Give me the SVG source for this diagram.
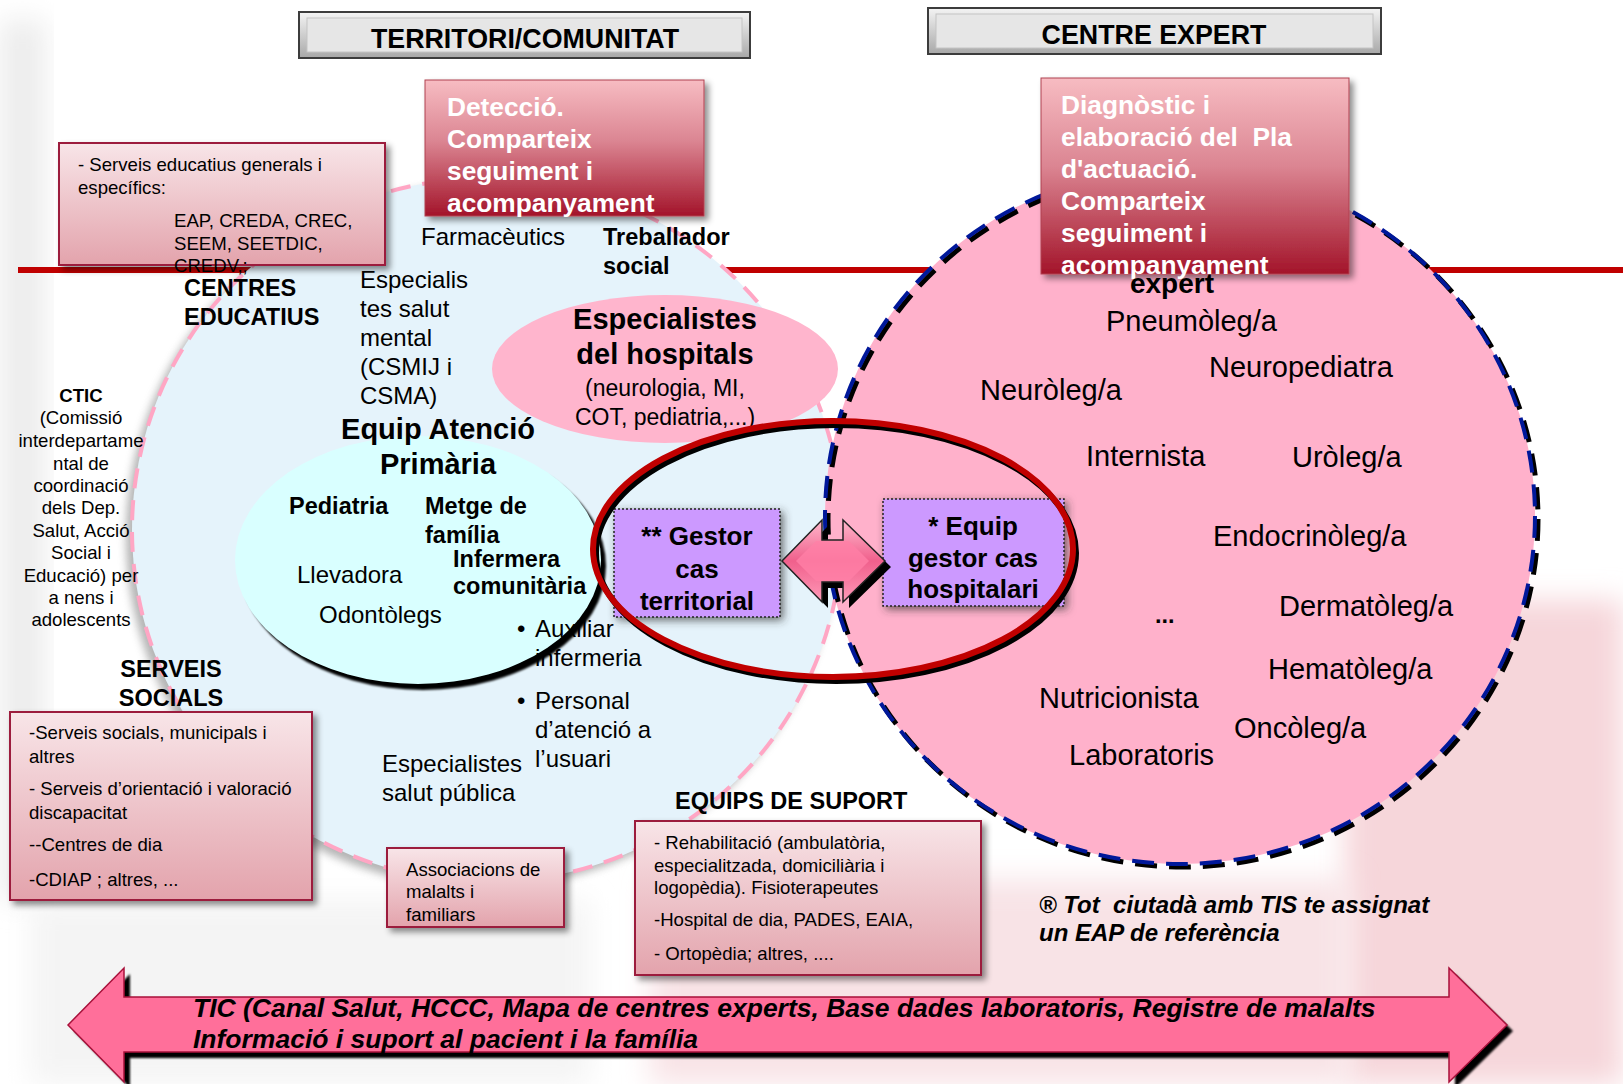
<svg xmlns="http://www.w3.org/2000/svg" width="1623" height="1084" viewBox="0 0 1623 1084">
<defs>
<style>
text{font-family:"Liberation Sans",Arial,sans-serif;fill:#000}
.reg{font-size:24px}
.bld{font-size:23.5px;font-weight:bold}
.exp{font-size:29px}
.small{font-size:18.6px}
.wt{font-size:26.3px;font-weight:bold;fill:#fff}
.hdr{font-size:26.8px;font-weight:bold}
.pur{font-size:26px;font-weight:bold;text-anchor:middle}
.bi{font-size:24px;font-weight:bold;font-style:italic}
.tic{font-size:26.5px;font-weight:bold;font-style:italic}
.pbox{fill:url(#pinkBox);stroke:#9c1c3c;stroke-width:2}
.rbox{fill:url(#redBox);stroke:#b04050;stroke-width:1}
.purbox{fill:#cc99ff;stroke:#222;stroke-width:1.5;stroke-dasharray:2 2}
</style>
<linearGradient id="redBox" x1="0" y1="0" x2="0" y2="1">
<stop offset="0" stop-color="#f7bcc2"/><stop offset="0.45" stop-color="#db8592"/><stop offset="1" stop-color="#a3142a"/>
</linearGradient>
<linearGradient id="pinkBox" x1="0" y1="0" x2="0" y2="1">
<stop offset="0" stop-color="#f8e5e8"/><stop offset="1" stop-color="#e3a3ac"/>
</linearGradient>
<linearGradient id="hdrGrad" x1="0" y1="0" x2="0" y2="1">
<stop offset="0" stop-color="#f4f4f4"/><stop offset="1" stop-color="#a8a8a8"/>
</linearGradient>
<linearGradient id="arrGrad" x1="0" y1="0" x2="0" y2="1">
<stop offset="0" stop-color="#ffb8cc"/><stop offset="0.5" stop-color="#f0608c"/><stop offset="1" stop-color="#ff9ab8"/>
</linearGradient>
<filter id="sh" x="-20%" y="-20%" width="140%" height="140%">
<feDropShadow dx="4" dy="4" stdDeviation="3" flood-color="#000" flood-opacity="0.45"/>
</filter>
<filter id="glow" x="-20%" y="-20%" width="140%" height="140%">
<feDropShadow dx="3" dy="3" stdDeviation="4" flood-color="#333" flood-opacity="0.7"/>
</filter>
<filter id="blur12" x="-20%" y="-20%" width="140%" height="140%"><feGaussianBlur stdDeviation="14"/></filter>
<filter id="blur4" x="-20%" y="-20%" width="140%" height="140%"><feGaussianBlur stdDeviation="4"/></filter>
<filter id="blur1" x="-10%" y="-10%" width="120%" height="120%"><feGaussianBlur stdDeviation="1.2"/></filter>
</defs>

<g id="background">
<rect x="0" y="0" width="1623" height="1084" fill="#ffffff"/>
<rect x="0" y="20" width="45" height="880" fill="#ececec" filter="url(#blur12)"/>
<rect x="1345" y="600" width="278" height="484" fill="#f6d6da" filter="url(#blur12)"/>
<rect x="650" y="880" width="700" height="204" fill="#f8e3e6" filter="url(#blur12)"/>
<rect x="30" y="900" width="560" height="184" fill="#f4f4f4" filter="url(#blur12)"/>
</g>

<g id="connectors">
<line x1="18" y1="270" x2="1623" y2="270" stroke="#c00000" stroke-width="6"/>
</g>

<g id="territori-circle">
<ellipse cx="481" cy="536" rx="355" ry="352" fill="#777" opacity="0.55" filter="url(#blur4)"/>
<ellipse cx="487" cy="530" rx="355" ry="352" fill="#e5f3fb" stroke="#ffa6c4" stroke-width="4" stroke-dasharray="20 12"/>
</g>

<g id="centre-expert-circle">
<ellipse cx="1180" cy="516" rx="355" ry="348" fill="#ffb1cb"/>
<ellipse cx="1183" cy="519" rx="355" ry="348" fill="none" stroke="#000" stroke-width="5" stroke-dasharray="22 12"/>
<ellipse cx="1180" cy="516" rx="355" ry="348" fill="none" stroke="#00189a" stroke-width="4" stroke-dasharray="22 12"/>
</g>

<g id="especialistes-hospitals">
<ellipse cx="665" cy="369" rx="173" ry="74" fill="#ffb5cd"/>
<text class="bld" style="font-size:29px" x="665" y="329" text-anchor="middle">Especialistes</text>
<text class="bld" style="font-size:29px" x="665" y="364" text-anchor="middle">del hospitals</text>
<text class="reg" style="font-size:23px" x="665" y="396" text-anchor="middle">(neurologia, MI,</text>
<text class="reg" style="font-size:23px" x="665" y="425" text-anchor="middle">COT, pediatria,...)</text>
</g>

<g id="eap">
<ellipse cx="423" cy="566" rx="183" ry="124" fill="#000" filter="url(#blur1)"/>
<ellipse cx="418" cy="560" rx="183" ry="124" fill="#d9ffff"/>
<text class="bld" style="font-size:29px" x="438" y="439" text-anchor="middle">Equip Atenció</text>
<text class="bld" style="font-size:29px" x="438" y="474" text-anchor="middle">Primària</text>
<text class="bld" x="289" y="514">Pediatria</text>
<text class="bld" x="425" y="514">Metge de</text>
<text class="bld" x="425" y="543">família</text>
<text class="bld" x="453" y="567">Infermera</text>
<text class="bld" x="453" y="594">comunitària</text>
<text class="reg" x="297" y="583">Llevadora</text>
<text class="reg" x="319" y="623">Odontòlegs</text>
</g>

<g id="territori-labels">
<text class="reg" x="421" y="245">Farmacèutics</text>
<text class="bld" x="603" y="245">Treballador</text>
<text class="bld" x="603" y="274">social</text>
<text class="reg" x="360" y="288">Especialis</text>
<text class="reg" x="360" y="317">tes salut</text>
<text class="reg" x="360" y="346">mental</text>
<text class="reg" x="360" y="375">(CSMIJ i</text>
<text class="reg" x="360" y="404">CSMA)</text>
<text class="bld" x="184" y="296">CENTRES</text>
<text class="bld" x="184" y="325">EDUCATIUS</text>
<text class="reg" x="517" y="637">•</text>
<text class="reg" x="535" y="637">Auxiliar</text>
<text class="reg" x="535" y="666">infermeria</text>
<text class="reg" x="517" y="709">•</text>
<text class="reg" x="535" y="709">Personal</text>
<text class="reg" x="535" y="738">d’atenció a</text>
<text class="reg" x="535" y="767">l’usuari</text>
<text class="reg" x="382" y="772">Especialistes</text>
<text class="reg" x="382" y="801">salut pública</text>
<text class="bld" x="171" y="677" text-anchor="middle">SERVEIS</text>
<text class="bld" x="171" y="706" text-anchor="middle">SOCIALS</text>
<text class="bld" x="675" y="809">EQUIPS DE SUPORT</text>
</g>

<g id="ctic">
<text class="small" x="81" y="402" text-anchor="middle" font-weight="bold">CTIC</text>
<text class="small" x="81" y="424" text-anchor="middle">(Comissió</text>
<text class="small" x="81" y="447" text-anchor="middle">interdepartame</text>
<text class="small" x="81" y="470" text-anchor="middle">ntal de</text>
<text class="small" x="81" y="492" text-anchor="middle">coordinació</text>
<text class="small" x="81" y="514" text-anchor="middle">dels Dep.</text>
<text class="small" x="81" y="537" text-anchor="middle">Salut, Acció</text>
<text class="small" x="81" y="559" text-anchor="middle">Social i</text>
<text class="small" x="81" y="582" text-anchor="middle">Educació) per</text>
<text class="small" x="81" y="604" text-anchor="middle">a nens i</text>
<text class="small" x="81" y="626" text-anchor="middle">adolescents</text>
</g>

<g id="expert-labels">
<text class="exp" x="1106" y="331">Pneumòleg/a</text>
<text class="exp" x="1209" y="377">Neuropediatra</text>
<text class="exp" x="980" y="400">Neuròleg/a</text>
<text class="exp" x="1086" y="466">Internista</text>
<text class="exp" x="1292" y="467">Uròleg/a</text>
<text class="exp" x="1213" y="546">Endocrinòleg/a</text>
<text class="bld" x="1155" y="623">...</text>
<text class="exp" x="1279" y="616">Dermatòleg/a</text>
<text class="exp" x="1268" y="679">Hematòleg/a</text>
<text class="exp" x="1039" y="708">Nutricionista</text>
<text class="exp" x="1234" y="738">Oncòleg/a</text>
<text class="exp" x="1069" y="765">Laboratoris</text>
</g>

<g id="header-territori">
<rect x="299" y="12" width="451" height="46" fill="url(#hdrGrad)" stroke="#3c3c3c" stroke-width="2"/>
<rect x="307" y="18" width="435" height="34" fill="#e6e6e6" stroke="#c4c4c4" stroke-width="1"/>
<text class="hdr" x="525" y="48" text-anchor="middle">TERRITORI/COMUNITAT</text>
</g>

<g id="header-centre-expert">
<rect x="928" y="8" width="453" height="46" fill="url(#hdrGrad)" stroke="#3c3c3c" stroke-width="2"/>
<rect x="936" y="14" width="437" height="34" fill="#e6e6e6" stroke="#c4c4c4" stroke-width="1"/>
<text class="hdr" x="1154" y="44" text-anchor="middle">CENTRE EXPERT</text>
</g>

<g id="deteccio">
<rect class="rbox" x="425" y="80" width="279" height="136" filter="url(#sh)"/>
<text class="wt" x="447" y="116">Detecció.</text>
<text class="wt" x="447" y="148">Comparteix</text>
<text class="wt" x="447" y="180">seguiment i</text>
<text class="wt" x="447" y="212">acompanyament</text>
</g>

<g id="diagnostic">
<rect class="rbox" x="1041" y="78" width="308" height="196" filter="url(#sh)"/>
<text class="wt" x="1061" y="114">Diagnòstic i</text>
<text class="wt" x="1061" y="146" xml:space="preserve">elaboració del  Pla</text>
<text class="wt" x="1061" y="178">d'actuació.</text>
<text class="wt" x="1061" y="210">Comparteix</text>
<text class="wt" x="1061" y="242">seguiment i</text>
<text class="wt" x="1061" y="274">acompanyament</text>
<text class="bld" style="font-size:28px" x="1172" y="293" text-anchor="middle">expert</text>
</g>

<g id="serveis-educatius">
<rect class="pbox" x="59" y="143" width="326" height="122" filter="url(#sh)"/>
<text class="small" x="78" y="171">- Serveis educatius generals i</text>
<text class="small" x="78" y="194">específics:</text>
<text class="small" x="174" y="227">EAP, CREDA, CREC,</text>
<text class="small" x="174" y="250">SEEM, SEETDIC,</text>
<text class="small" x="174" y="272">CREDV,;</text>
</g>

<g id="serveis-socials">
<rect class="pbox" x="10" y="712" width="302" height="188" filter="url(#sh)"/>
<text class="small" x="29" y="739">-Serveis socials, municipals i</text>
<text class="small" x="29" y="763">altres</text>
<text class="small" x="29" y="795">- Serveis d’orientació i valoració</text>
<text class="small" x="29" y="819">discapacitat</text>
<text class="small" x="29" y="851">--Centres de dia</text>
<text class="small" x="29" y="886">-CDIAP ; altres, ...</text>
</g>

<g id="associacions">
<rect class="pbox" x="387" y="848" width="177" height="79" filter="url(#sh)"/>
<text class="small" x="406" y="876">Associacions de</text>
<text class="small" x="406" y="898">malalts i</text>
<text class="small" x="406" y="921">familiars</text>
</g>

<g id="equips-suport">
<rect class="pbox" x="635" y="821" width="346" height="154" filter="url(#sh)"/>
<text class="small" x="654" y="849">- Rehabilitació (ambulatòria,</text>
<text class="small" x="654" y="872">especialitzada, domiciliària i</text>
<text class="small" x="654" y="894">logopèdia). Fisioterapeutes</text>
<text class="small" x="654" y="926">-Hospital de dia, PADES, EAIA,</text>
<text class="small" x="654" y="960">- Ortopèdia; altres, ....</text>
</g>

<g id="gestor-territorial">
<rect class="purbox" x="614" y="509" width="166" height="108" filter="url(#glow)"/>
<text class="pur" x="697" y="545">** Gestor</text>
<text class="pur" x="697" y="578">cas</text>
<text class="pur" x="697" y="610">territorial</text>
</g>

<g id="gestor-hospitalari">
<rect class="purbox" x="883" y="499" width="181" height="107" filter="url(#glow)"/>
<text class="pur" x="973" y="535">* Equip</text>
<text class="pur" x="973" y="567">gestor cas</text>
<text class="pur" x="973" y="598">hospitalari</text>
</g>

<g id="connectors-links">
<ellipse cx="836" cy="553" rx="240" ry="128" fill="none" stroke="#000" stroke-width="6"/>
<ellipse cx="833" cy="549" rx="240" ry="128" fill="none" stroke="#c00000" stroke-width="6"/>
<path d="M782,561 L822,520 L822,540 L843,540 L843,520 L885,561 L843,602 L843,582 L822,582 L822,602 Z" transform="translate(6,6)" fill="#000"/>
<path d="M782,561 L822,520 L822,540 L843,540 L843,520 L885,561 L843,602 L843,582 L822,582 L822,602 Z" fill="url(#arrGrad)" stroke="#222" stroke-width="1.5"/>
<path d="M796,561 L816,541 L849,541 L869,561 L849,581 L816,581 Z" fill="#ff80a6" opacity="0.8"/>
</g>

<g id="tic-arrow">
<path d="M68,1025 L124,968 L124,997 L1449,997 L1449,968 L1507,1025 L1449,1082 L1449,1052 L124,1052 L124,1082 Z" transform="translate(6,6)" fill="#000" filter="url(#blur1)"/>
<path d="M68,1025 L124,968 L124,997 L1449,997 L1449,968 L1507,1025 L1449,1082 L1449,1052 L124,1052 L124,1082 Z" fill="#ff6f9a" stroke="#a8103a" stroke-width="1.5"/>
<text class="tic" x="193" y="1017">TIC (Canal Salut, HCCC, Mapa de centres experts, Base dades laboratoris, Registre de malalts</text>
<text class="tic" x="193" y="1048">Informació i suport al pacient i la família</text>
</g>

<g id="nota">
<text class="bi" x="1039" y="913" xml:space="preserve">® Tot  ciutadà amb TIS te assignat</text>
<text class="bi" x="1039" y="941">un EAP de referència</text>
</g>
</svg>
